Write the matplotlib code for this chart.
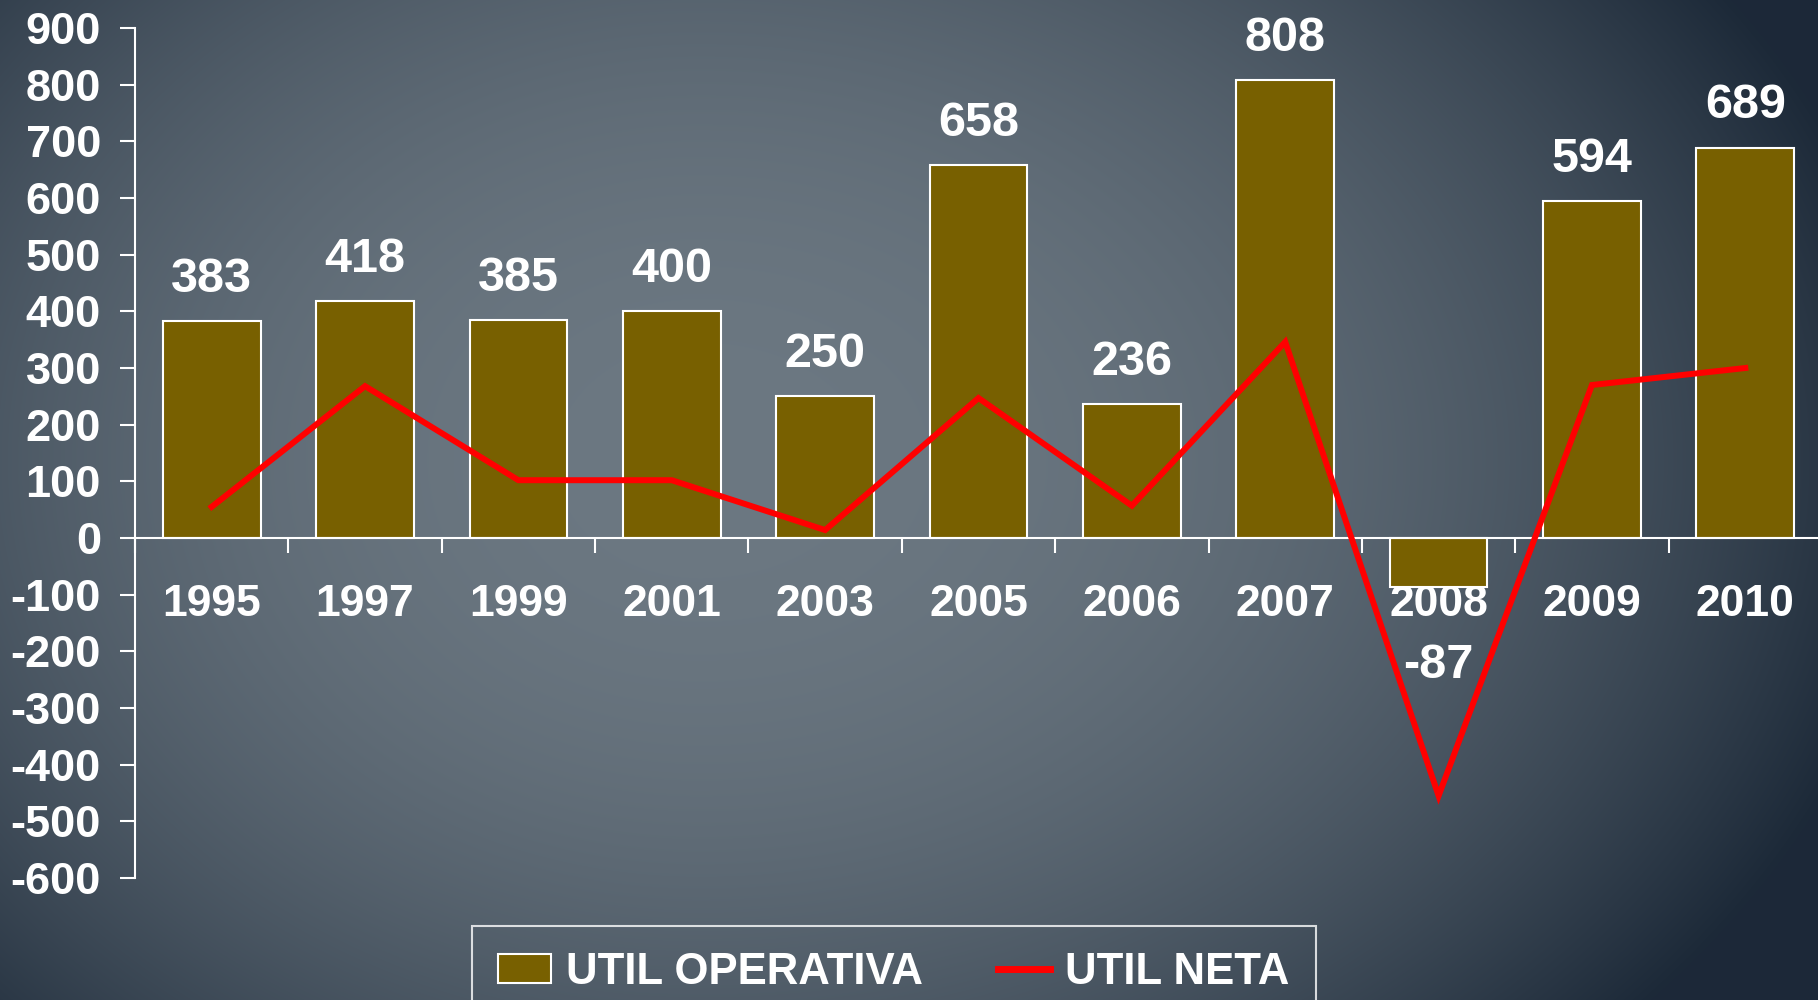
import numpy as np
import matplotlib
matplotlib.use("Agg")
import matplotlib.pyplot as plt
from matplotlib.patches import Patch
from matplotlib.lines import Line2D

plt.rcParams['font.family'] = ['Liberation Sans', 'DejaVu Sans']
plt.rcParams['font.weight'] = 'bold'
plt.rcParams['axes.unicode_minus'] = False

years = ['1995', '1997', '1999', '2001', '2003', '2005', '2006', '2007', '2008', '2009', '2010']
util_operativa = [383, 418, 385, 400, 250, 658, 236, 808, -87, 594, 689]
util_neta = [55, 268, 102, 102, 14, 247, 57, 346, -455, 270, 300]
y_ticks = list(range(-600, 901, 100))

bar_color = '#786000'
line_color = '#ff0000'

W, H = 1818, 1000
fig = plt.figure(figsize=(W / 100, H / 100), dpi=100)

# background gradient
bg = fig.add_axes([0, 0, 1, 1], zorder=-10)
yy, xx = np.mgrid[0:H, 0:W]
cx, cy = 700.0, 460.0
rx = np.where(xx < cx, 1060.0, 1220.0)
ry = 860.0
t = np.sqrt(((xx - cx) / rx) ** 2 + ((yy - cy) / ry) ** 2)
t = np.clip(t, 0, 1) ** 2.2
c0 = np.array([0x6c, 0x78, 0x82]) / 255.0
c1 = np.array([0x1c, 0x29, 0x38]) / 255.0
img = c0[None, None, :] + (c1 - c0)[None, None, :] * t[..., None]
bg.imshow(img, aspect='auto', interpolation='bilinear')
bg.axis('off')

ax = fig.add_axes([135 / W, 0.122, (1822 - 135) / W, 0.85])
ax.set_facecolor('none')

x = np.arange(len(years))
ax.bar(x, util_operativa, width=0.637, color=bar_color, edgecolor='white', linewidth=1.5, zorder=2)
ax.plot(x, util_neta, color=line_color, lw=4.3, zorder=3, solid_joinstyle='miter')

for i, v in enumerate(util_operativa):
    off = 21 if v >= 0 else -65
    ax.annotate(str(v), (i, v), xytext=(0, off), textcoords='offset points',
                ha='center', va='baseline', color='white', fontsize=35, fontweight='bold', zorder=4)

ax.set_xlim(-0.5, len(years) - 0.5)
ax.set_ylim(-600, 900)

for s in ['top', 'right']:
    ax.spines[s].set_visible(False)
ax.spines['bottom'].set_position(('data', 0))
ax.spines['bottom'].set_color('white')
ax.spines['left'].set_color('white')
ax.spines['bottom'].set_linewidth(1.5)
ax.spines['left'].set_linewidth(1.5)

ax.set_xticks(np.arange(-0.5, len(years), 1))
ax.set_xticklabels([])
ax.set_xticks(x, minor=True)
ax.set_xticklabels(years, minor=True)
ax.tick_params(axis='x', which='major', direction='out', length=10.5, width=1.5, color='white')
ax.tick_params(axis='x', which='minor', length=0, pad=33, labelsize=32, labelcolor='white')

ax.set_yticks(y_ticks)
ax.set_yticklabels([str(v) for v in y_ticks])
ax.tick_params(axis='y', direction='out', length=10.5, width=1.5, color='white',
               pad=14, labelsize=32.5, labelcolor='white')

handles = [Patch(facecolor=bar_color, edgecolor='white', linewidth=1.5),
           Line2D([], [], color=line_color, lw=5)]
leg = fig.legend(handles, ['UTIL OPERATIVA', 'UTIL NETA'], loc='upper center',
                 bbox_to_anchor=(894 / W, 1 - 926 / H), ncol=2, frameon=True,
                 fancybox=False, fontsize=31.5, handlelength=1.2, handleheight=0.65,
                 handletextpad=0.35, columnspacing=1.7, borderpad=0.6, borderaxespad=0)
leg.get_frame().set_edgecolor('white')
leg.get_frame().set_facecolor('none')
leg.get_frame().set_linewidth(1.5)
for txt in leg.get_texts():
    txt.set_color('white')

fig.savefig('out.png', dpi=100)
